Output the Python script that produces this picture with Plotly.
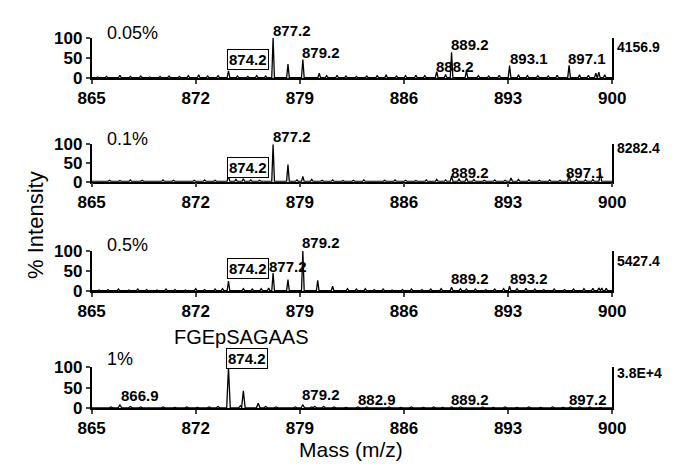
import plotly.graph_objects as go

# ---------------- data ----------------
mz_ticks = [865, 872, 879, 886, 893, 900]
intensity_ticks = [0, 50, 100]
panel_names = ["0.05%", "0.1%", "0.5%", "1%"]
max_counts = ["4156.9", "8282.4", "5427.4", "3.8E+4"]

# main peaks (m/z, % intensity)
p1_mz = [874.2, 877.2, 878.2, 879.2, 888.2, 889.2, 890.2, 893.1, 897.1, 899.1]
p1_int = [18, 100, 35, 46, 16, 64, 18, 31, 32, 15]
p2_mz = [874.2, 875.2, 877.2, 878.2, 879.2, 889.2, 890.2, 893.2, 897.1, 899.2]
p2_int = [18, 8, 100, 46, 14, 15, 10, 10, 20, 24]
p3_mz = [874.2, 875.2, 877.2, 878.2, 879.2, 880.2, 881.2, 882.2, 889.2, 890.2, 893.1, 893.6, 899.3, 899.6]
p3_int = [25, 6, 45, 29, 100, 27, 12, 6, 10, 5, 12, 6, 8, 7]
p4_mz = [866.9, 867.6, 874.2, 875.0, 875.2, 876.2, 879.2, 880.0, 882.9, 889.2, 897.2]
p4_int = [8, 4, 100, 6, 42, 12, 8, 4, 3, 3, 3]

# baseline noise peaks (m/z, % intensity)
n1_mz = [865.4, 866.0, 866.9, 867.6, 868.3, 868.9, 869.6, 870.2, 870.9, 871.5, 872.2, 872.8, 873.5,
         874.8, 875.5, 876.1, 876.7, 880.3, 880.8, 881.5, 882.1, 882.8, 883.5, 884.2, 884.8, 885.5,
         886.1, 886.8, 887.4, 888.8, 891.0, 891.7, 892.4, 893.7, 894.3, 895.0, 895.7, 896.3, 897.8,
         898.4, 898.9, 899.5]
n1_int = [3, 4, 7, 4, 5, 3, 4, 5, 4, 6, 8, 5, 6, 5, 4, 6, 5, 12, 6, 7, 5, 4, 5, 6, 8, 5, 6, 7, 6,
          9, 6, 5, 7, 8, 6, 6, 5, 7, 8, 7, 12, 8]
n2_mz = [865.5, 866.2, 866.9, 867.6, 868.4, 869.1, 869.8, 870.5, 871.2, 871.9, 872.6, 873.3, 874.7,
         875.7, 876.3, 878.8, 879.8, 880.5, 881.2, 881.9, 882.6, 883.3, 884.0, 884.7, 885.4, 886.1,
         886.8, 887.5, 888.2, 888.8, 889.7, 890.7, 891.4, 892.1, 892.8, 893.7, 894.4, 895.1, 895.8,
         896.5, 897.6, 898.2, 898.7]
n2_int = [3, 4, 3, 5, 4, 3, 5, 4, 3, 4, 5, 4, 6, 5, 4, 5, 6, 4, 5, 3, 4, 5, 3, 4, 5, 4, 3, 5, 6,
          5, 7, 6, 4, 5, 4, 6, 5, 4, 5, 4, 6, 5, 6]
n3_mz = [865.5, 866.1, 866.8, 867.5, 868.1, 868.7, 869.4, 870.0, 870.6, 871.3, 872.0, 872.6, 873.3,
         873.8, 875.8, 876.4, 876.9, 882.8, 883.4, 884.0, 884.6, 885.2, 885.9, 886.5, 887.2, 887.8,
         888.5, 889.8, 890.8, 891.5, 892.1, 892.7, 894.2, 894.8, 895.4, 896.1, 896.8, 897.4, 898.1,
         898.7, 899.1]
n3_int = [3, 4, 5, 3, 5, 4, 3, 5, 4, 3, 6, 4, 5, 6, 5, 6, 8, 5, 6, 4, 5, 3, 4, 5, 4, 5, 6, 6, 5,
          4, 5, 6, 7, 5, 4, 5, 4, 5, 6, 7, 8]
n4_mz = [865.6, 866.3, 868.3, 869.0, 869.8, 870.6, 871.4, 872.1, 872.9, 873.5, 876.7, 877.4, 878.1,
         878.7, 879.8, 880.6, 881.3, 882.1, 883.5, 884.3, 885.0, 885.8, 886.5, 887.3, 888.0, 888.6,
         889.8, 890.5, 891.3, 892.0, 892.8, 893.6, 894.4, 895.2, 896.0, 896.7, 897.8, 898.5, 899.2]
n4_int = [2, 3, 3, 2, 3, 2, 3, 2, 3, 4, 4, 3, 2, 3, 3, 4, 3, 2, 3, 2, 3, 2, 3, 2, 3, 2, 3, 2, 3,
          2, 3, 2, 3, 2, 3, 2, 3, 3, 2]

# peak labels: (text, m/z of label centre, % intensity of label centre, boxed)
l1_text = ["877.2", "879.2", "874.2", "889.2", "888.2", "893.1", "897.1"]
l1_x = [878.45, 880.45, 875.5, 890.45, 889.45, 894.4, 898.3]
l1_y = [119, 64, 45, 83, 30, 48, 48]
l1_box = [False, False, True, False, False, False, False]
l2_text = ["877.2", "874.2", "889.2", "897.1"]
l2_x = [878.45, 875.5, 890.45, 898.2]
l2_y = [122, 38, 26, 26]
l2_box = [False, True, False, False]
l3_text = ["879.2", "877.2", "874.2", "889.2", "893.2"]
l3_x = [880.45, 878.2, 875.5, 890.45, 894.4]
l3_y = [121, 62, 57, 31, 31]
l3_box = [False, False, True, False, False]
l4_text = ["874.2", "866.9", "879.2", "882.9", "889.2", "897.2"]
l4_x = [875.45, 868.25, 880.45, 884.2, 890.45, 898.4]
l4_y = [121, 30, 33, 21, 21, 21]
l4_box = [True, False, False, False, False, False]
name_y = [112, 114, 114, 119]
count_y = [78, 91, 75, 86]
peptide = "FGEpSAGAAS"
peptide_x = 875.1
peptide_y = 172

# ---------------- layout helpers ----------------
W, H = 677, 471
x_left_px, x_right_px = 81, 624
panel_px = [(30, 72), (141, 180), (252, 294), (373, 416)]  # (top=100, bottom=0)
FONT = "Liberation Sans, Arial, sans-serif"


def paper_y(i, value):
    top, bot = panel_px[i]
    return (H - (bot - value / 100.0 * (bot - top))) / H


def profile(mz, inten, nmz, nint, hw):
    pts = sorted(list(zip(mz, inten)) + list(zip(nmz, nint)))
    xs, ys = [865.0], [1.0]
    for m, h in pts:
        xs += [m - hw, m, m + hw]
        ys += [1.0, h, 1.0]
    xs.append(900.0)
    ys.append(1.0)
    return xs, ys


peaks = [(p1_mz, p1_int, n1_mz, n1_int), (p2_mz, p2_int, n2_mz, n2_int),
         (p3_mz, p3_int, n3_mz, n3_int), (p4_mz, p4_int, n4_mz, n4_int)]
labels = [(l1_text, l1_x, l1_y, l1_box), (l2_text, l2_x, l2_y, l2_box),
          (l3_text, l3_x, l3_y, l3_box), (l4_text, l4_x, l4_y, l4_box)]

fig = go.Figure()
annotations = []
layout = dict(
    width=W, height=H, margin=dict(l=0, r=0, t=0, b=0),
    paper_bgcolor="white", plot_bgcolor="white", showlegend=False,
    font=dict(family=FONT, color="black"),
)

for i in range(4):
    n = "" if i == 0 else str(i + 1)
    mz, it, nmz, nit = peaks[i]
    xs, ys = profile(mz, it, nmz, nit, 0.09 if i < 3 else 0.12)
    fig.add_trace(go.Scatter(x=xs, y=ys, mode="lines",
                             line=dict(color="black", width=1.3),
                             xaxis="x" + n, yaxis="y" + n, hoverinfo="skip",
                             cliponaxis=False))
    top, bot = panel_px[i]
    layout["xaxis" + n] = dict(
        domain=[x_left_px / W, x_right_px / W], range=[865, 900], anchor="y" + n,
        tickvals=mz_ticks, ticks="outside", ticklen=4, tickwidth=1.5,
        showline=True, linecolor="black", linewidth=1.5, showgrid=False, zeroline=False,
        tickfont=dict(family=FONT, size=17, color="black", weight="bold"),
    )
    layout["yaxis" + n] = dict(
        domain=[(H - bot) / H, (H - top) / H], range=[0, 100], anchor="x" + n,
        tickvals=intensity_ticks, ticks="outside", ticklen=4, tickwidth=1.5,
        showline=True, linecolor="black", linewidth=1.5, mirror=True,
        showgrid=False, zeroline=False,
        tickfont=dict(family=FONT, size=17, color="black", weight="bold"),
    )
    annotations.append(dict(
        x=865.9, y=paper_y(i, name_y[i]), xref="x" + n, yref="paper",
        text=panel_names[i], showarrow=False, xanchor="left", yanchor="middle",
        font=dict(family=FONT, size=18, color="black")))
    annotations.append(dict(
        x=627 / W, y=paper_y(i, count_y[i]), xref="paper", yref="paper",
        text=max_counts[i], showarrow=False, xanchor="left", yanchor="middle",
        font=dict(family=FONT, size=14, color="black", weight="bold")))
    txt, lx, ly, lb = labels[i]
    for t, x, y, b in zip(txt, lx, ly, lb):
        a = dict(x=x, y=paper_y(i, y), xref="x" + n, yref="paper", text=t, showarrow=False,
                 xanchor="center", yanchor="middle",
                 font=dict(family=FONT, size=15, color="black", weight="bold"))
        if b:
            a.update(bordercolor="black", borderwidth=1, borderpad=1, bgcolor="white")
        annotations.append(a)

annotations.append(dict(
    x=peptide_x, y=paper_y(3, peptide_y), xref="x4", yref="paper", text=peptide,
    showarrow=False, xanchor="center", yanchor="middle",
    font=dict(family=FONT, size=20, color="black")))
annotations.append(dict(
    x=23 / W, y=(H - 225) / H, xref="paper", yref="paper", text="% Intensity",
    showarrow=False, textangle=-90, xanchor="center", yanchor="middle",
    font=dict(family=FONT, size=22, color="black")))
annotations.append(dict(
    x=352 / W, y=(H - 459) / H, xref="paper", yref="paper", text="Mass (m/z)",
    showarrow=False, xanchor="center", yanchor="middle",
    font=dict(family=FONT, size=21, color="black")))

layout["annotations"] = annotations
fig.update_layout(**layout)
fig.write_html("out.html")
